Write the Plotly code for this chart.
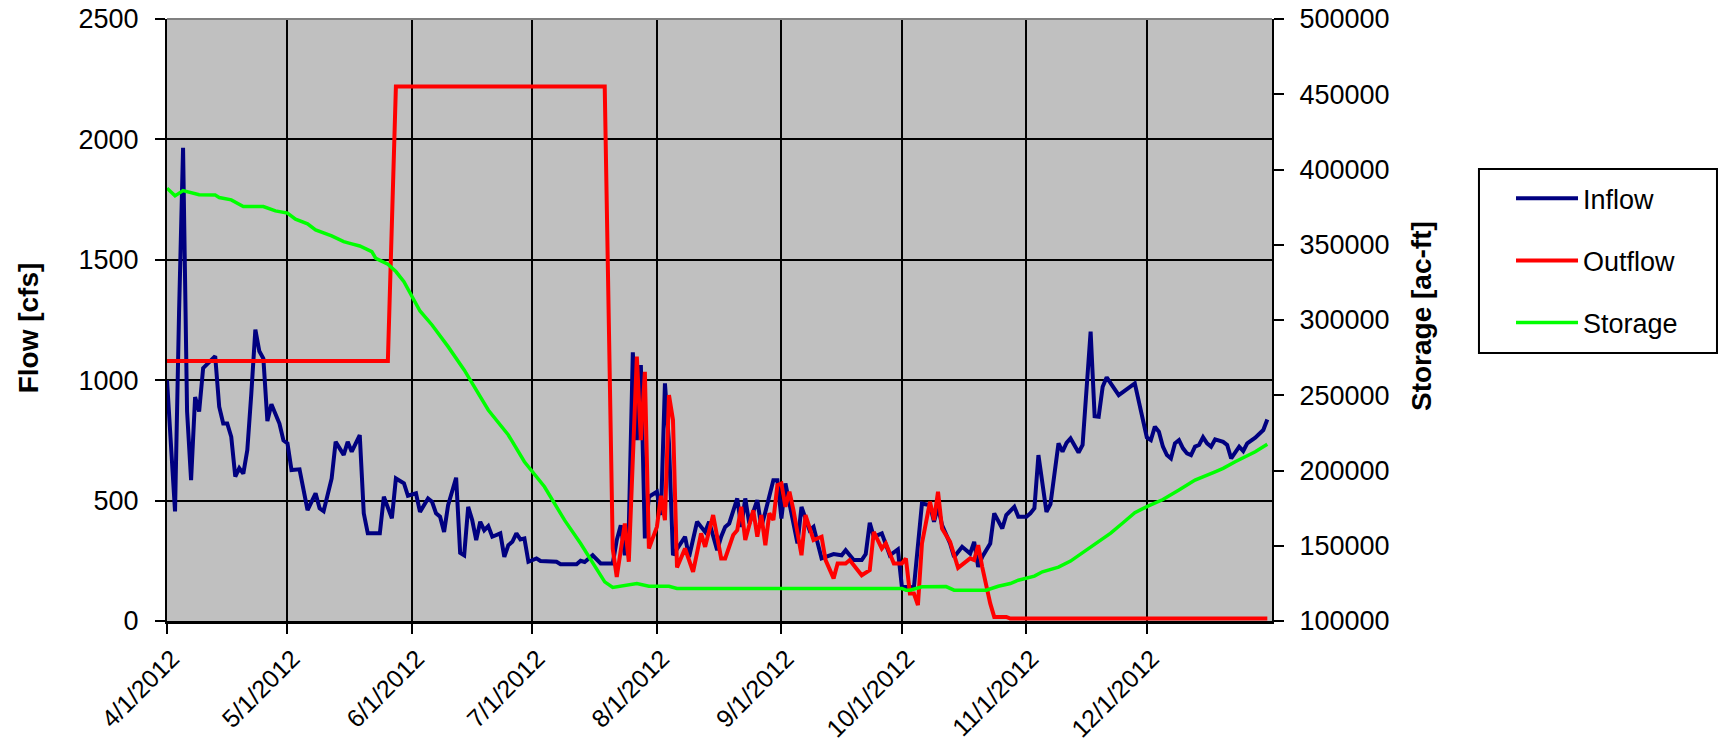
import pandas as pd
import plotly.graph_objects as go

start = pd.Timestamp("2012-04-01")

# ---- data (day offsets from 4/1/2012) ----
inflow_day = [0, 2, 3, 4, 5, 6, 7, 8, 9, 11, 12, 13, 14, 15, 16, 17, 18, 19, 20, 21, 22, 23, 24, 25, 26, 28, 29, 30, 31, 33,
              35, 37, 38, 39, 41, 42, 44, 45, 46, 48, 49, 50, 53, 54, 56, 57, 59, 60, 62, 63, 65, 66, 67, 68, 69, 70, 72, 73, 74, 75,
              76, 77, 78, 79, 80, 81, 83, 84, 85, 86, 87, 88, 89, 90, 92, 93, 97, 98, 102, 103, 104, 106, 108, 111, 112, 113, 114, 115, 116, 117,
              118, 119, 120, 122, 123, 124, 125, 126, 129, 130, 132, 134, 135, 137, 138, 139, 140, 142, 143, 144, 145, 147, 148, 149, 151, 152, 153, 154, 157, 158,
              160, 161, 163, 166, 168, 169, 171, 173, 174, 175, 176, 178, 180, 182, 183, 186, 188, 190, 191, 192, 193, 195, 196, 198, 200, 201, 202, 203, 205, 206,
              208, 209, 211, 212, 214, 215, 216, 217, 219, 220, 222, 223, 224, 225, 227, 228, 229, 230, 231, 232, 233, 234, 237, 239, 241, 244, 245, 246, 247, 248,
              249, 250, 251, 252, 253, 254, 255, 256, 257, 258, 259, 260, 261, 263, 264, 265, 266, 267, 268, 269, 271, 272, 273, 274]
inflow_cfs = [1000, 455, 1280, 1965, 870, 585, 930, 870, 1050, 1080, 1100, 890, 820, 820, 765, 600, 635, 612, 710, 945, 1210, 1120, 1090, 830, 900, 820, 750, 738, 627, 630,
              460, 530, 468, 456, 592, 744, 690, 744, 703, 772, 447, 364, 364, 516, 426, 592, 572, 520, 530, 453, 509, 495, 447, 433, 370, 481, 595, 283, 273, 474,
              419, 336, 412, 377, 394, 350, 364, 266, 315, 329, 364, 339, 343, 246, 260, 249, 246, 236, 236, 250, 245, 273, 239, 239, 336, 398, 273, 391, 1116, 751,
              1063, 343, 516, 537, 440, 987, 738, 273, 350, 266, 412, 370, 412, 294, 350, 391, 405, 509, 391, 509, 405, 502, 391, 453, 585, 585, 426, 571, 322, 474,
              377, 391, 260, 278, 273, 294, 253, 253, 278, 408, 350, 364, 273, 297, 142, 140, 488, 481, 412, 474, 398, 322, 266, 308, 280, 329, 225, 266, 322, 447,
              384, 440, 474, 433, 433, 447, 468, 689, 453, 485, 738, 703, 740, 758, 700, 731, 950, 1202, 850, 848, 973, 1012, 938, 965, 987, 762, 751, 807, 786, 724,
              689, 675, 738, 751, 717, 696, 689, 724, 731, 763, 738, 724, 754, 744, 731, 675, 703, 724, 706, 738, 761, 779, 793, 837]

outflow_day = [0, 55, 57, 109, 111, 112, 114, 115, 117, 118, 119, 120, 122, 123, 124, 125, 126, 127, 129, 131,
               133, 134, 136, 138, 139, 141, 142, 143, 144, 146, 147, 148, 149, 150, 151, 152, 153, 154, 155, 156,
               158, 159, 161, 163, 164, 166, 167, 169, 170, 173, 175, 176, 178, 179, 181, 183, 184, 185, 186, 187,
               188, 190, 191, 192, 193, 195, 197, 200, 201, 202, 203, 205, 206, 209, 210, 274]
outflow_cfs = [1080, 1080, 2220, 2220, 300, 183, 405, 246, 1098, 751, 1035, 301, 391, 520, 419, 938, 835, 222, 301, 204,
               364, 308, 440, 260, 260, 357, 377, 474, 336, 460, 350, 440, 315, 447, 419, 564, 571, 474, 537, 460,
               273, 440, 336, 350, 253, 177, 239, 239, 253, 190, 211, 370, 301, 322, 239, 239, 260, 114, 114, 66,
               322, 495, 419, 537, 384, 329, 221, 260, 253, 315, 225, 73, 17, 17, 10, 10]

storage_day = [0, 2, 4, 6, 8, 12, 13, 16, 19, 24, 27, 30, 32, 35, 37, 41, 44, 46, 48, 51, 52, 55, 57, 59, 61, 63, 66, 70,
               74, 77, 80, 85, 89, 94, 99, 103, 106, 109, 111, 115, 117, 120, 125, 127, 183, 184, 185, 188, 194, 196, 204,
               207, 210, 212, 216, 218, 222, 225, 228, 231, 235, 238, 241, 244, 248, 252, 256, 261, 263, 266, 271, 274]
storage_acft = [387600, 382500, 386000, 384700, 383200, 383000, 381400, 379800, 375400, 375400, 372500, 371000, 367000, 363900,
                359900, 355900, 352100, 350600, 349200, 345400, 341000, 337100, 332200, 325500, 315500, 306000, 296700, 282300,
                266800, 253900, 240200, 223600, 205800, 189200, 167000, 151500, 138200, 126000, 122300, 123800, 124900, 123100,
                123100, 121600, 121600, 120500, 120500, 122700, 122900, 120500, 120500, 123100, 124900, 127100, 129800, 132700,
                135800, 139800, 145500, 151200, 158400, 165100, 172000, 176000, 180700, 187000, 193600, 199100, 201400, 205800,
                212500, 217500]

month_ticks = ["2012-04-01", "2012-05-01", "2012-06-01", "2012-07-01", "2012-08-01",
               "2012-09-01", "2012-10-01", "2012-11-01", "2012-12-01"]
month_labels = ["4/1/2012", "5/1/2012", "6/1/2012", "7/1/2012", "8/1/2012",
                "9/1/2012", "10/1/2012", "11/1/2012", "12/1/2012"]


def to_dates(days):
    return [start + pd.Timedelta(days=d) for d in days]


FONT = "Arial, 'Liberation Sans', sans-serif"

fig = go.Figure()
fig.add_trace(go.Scatter(x=to_dates(inflow_day), y=inflow_cfs, name="Inflow", mode="lines",
                         line=dict(color="#000080", width=4), legendgroup="g1"))
fig.add_trace(go.Scatter(x=to_dates(outflow_day), y=outflow_cfs, name="Outflow", mode="lines",
                         line=dict(color="#FF0000", width=4), legendgroup="g2"))
fig.add_trace(go.Scatter(x=to_dates(storage_day), y=storage_acft, name="Storage", mode="lines",
                         line=dict(color="#00FF00", width=3.5), yaxis="y2", legendgroup="g3"))

axis_common = dict(showline=True, linecolor="black", ticks="outside", ticklen=10,
                   tickwidth=2, tickcolor="black", zeroline=False)

fig.update_layout(
    width=1725, height=749,
    margin=dict(l=167, r=453, t=19, b=128, autoexpand=False),
    paper_bgcolor="white", plot_bgcolor="#C0C0C0",
    font=dict(family=FONT, size=27, color="black"),
    hovermode=False,
    xaxis=dict(type="date", range=["2012-04-01", "2013-01-01 04:00"], tickvals=month_ticks,
               ticktext=month_labels, tickangle=-45, showgrid=True, gridcolor="black", gridwidth=2,
               linewidth=3, ticklabelshift=5, tickfont=dict(family=FONT, size=25, color="black"),
               **axis_common),
    yaxis=dict(range=[0, 2500], tick0=0, dtick=500, showgrid=True, gridcolor="black", gridwidth=2,
               linewidth=2, ticklabelstandoff=11, tickfont=dict(family=FONT, size=27, color="black"),
               **axis_common),
    yaxis2=dict(overlaying="y", side="right", range=[100000, 500000], tick0=100000, dtick=50000,
                tickformat="d", showgrid=False, linewidth=2, ticklabelstandoff=10,
                tickfont=dict(family=FONT, size=27, color="black"), **axis_common),
    showlegend=True,
    legend=dict(x=1.2163, y=0.742, xanchor="left", yanchor="top", borderwidth=0,
                bgcolor="rgba(0,0,0,0)", font=dict(family=FONT, size=27, color="black"),
                tracegroupgap=24, itemwidth=62),
    shapes=[
        # plot-area top border
        dict(type="line", xref="paper", yref="paper", x0=0, x1=1, y0=1, y1=1,
             line=dict(color="#808080", width=2)),
        # legend frame
        dict(type="rect", xref="paper", yref="paper", x0=1.1873, x1=1.4027, y0=0.4452, y1=0.7508,
             line=dict(color="black", width=2), fillcolor="rgba(0,0,0,0)", layer="below"),
    ],
    annotations=[
        dict(text="<b>Flow [cfs]</b>", xref="paper", yref="paper", x=-0.1255, y=0.4867,
             xanchor="center", yanchor="middle", textangle=-90, showarrow=False,
             font=dict(family=FONT, size=28, color="black")),
        dict(text="<b>Storage [ac-ft]</b>", xref="paper", yref="paper", x=1.1348, y=0.5066,
             xanchor="center", yanchor="middle", textangle=-90, showarrow=False,
             font=dict(family=FONT, size=28, color="black")),
    ],
)

fig.write_html("out.html", config={"displayModeBar": False},
               post_script="document.body.style.margin='0';document.body.style.overflow='hidden';")
